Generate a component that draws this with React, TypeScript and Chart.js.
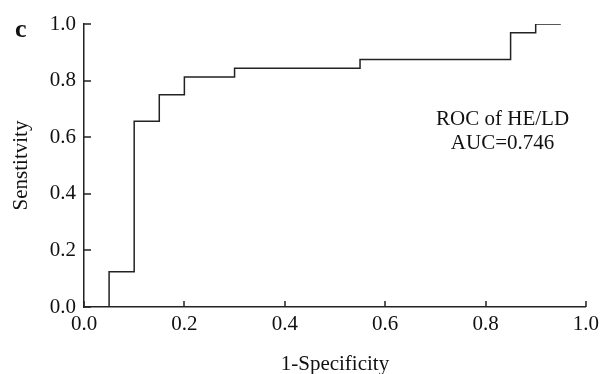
import React, { useEffect, useRef } from "react";
import { Chart, registerables } from "chart.js";

Chart.register(...registerables);

const fpr = [0.05, 0.05, 0.1, 0.15, 0.2, 0.3, 0.55, 0.85, 0.9, 0.95];
const tpr = [0, 0.125, 0.656, 0.75, 0.8125, 0.844, 0.875, 0.969, 1.0, 1.0];
const tickValues = [0, 0.2, 0.4, 0.6, 0.8, 1.0];
const xTitle = "1-Specificity";
const yTitle = "Senstitvity";
const panelLabel = "c";
const annotationLines = ["ROC of HE/LD", "AUC=0.746"];
const annotationAnchor = { x: 0.834, y: 0.643 };

const FONT = "'Liberation Serif', 'Times New Roman', serif";
const INK = "#222222";

const decorPlugin = {
  id: "decor",
  afterDatasetsDraw(chart: any) {
    const ctx = chart.ctx;
    const xs = chart.scales.x;
    const ys = chart.scales.y;
    const left = chart.chartArea.left;
    const bottom = chart.chartArea.bottom;
    ctx.save();
    ctx.strokeStyle = INK;
    ctx.lineWidth = 1.5;
    ctx.beginPath();
    for (const v of tickValues) {
      const px = Math.round(xs.getPixelForValue(v));
      ctx.moveTo(px, bottom);
      ctx.lineTo(px, bottom - 6);
      const py = Math.round(ys.getPixelForValue(v));
      ctx.moveTo(left, py);
      ctx.lineTo(left + 7, py);
    }
    ctx.stroke();
    ctx.fillStyle = "#111";
    ctx.font = `bold 26px ${FONT}`;
    ctx.textAlign = "left";
    ctx.textBaseline = "alphabetic";
    ctx.fillText(panelLabel, 15, 37);
    ctx.font = `21px ${FONT}`;
    ctx.textAlign = "center";
    const ax = xs.getPixelForValue(annotationAnchor.x);
    const ay = ys.getPixelForValue(annotationAnchor.y);
    annotationLines.forEach((t, i) => {
      ctx.fillText(t, ax, ay + i * 24);
    });
    ctx.restore();
  },
};

export default function App() {
  const ref = useRef<HTMLCanvasElement | null>(null);
  useEffect(() => {
    document.body.style.margin = "0";
    const canvas = ref.current!;
    const chart = new Chart(canvas, {
      type: "line",
      data: {
        datasets: [
          {
            data: fpr.map((x, i) => ({ x, y: tpr[i] })),
            stepped: "before",
            borderColor: INK,
            borderWidth: 1.5,
            pointRadius: 0,
            fill: false,
          },
        ],
      },
      options: {
        responsive: false,
        animation: false,
        layout: { padding: { left: 0, right: 15, top: 24, bottom: 0 } },
        plugins: { legend: { display: false }, tooltip: { enabled: false } },
        scales: {
          x: {
            type: "linear",
            min: 0,
            max: 1,
            afterFit: (s: any) => {
              s.height = 67;
            },
            ticks: {
              stepSize: 0.2,
              padding: 5,
              color: "#111",
              font: { family: FONT, size: 21 },
              callback: (v: any) => Number(v).toFixed(1),
            },
            grid: { display: false, drawTicks: false },
            border: { display: true, color: INK, width: 1.5 },
            title: {
              display: true,
              text: xTitle,
              color: "#111",
              font: { family: FONT, size: 21 },
              padding: { top: 0, bottom: -3 },
            },
          },
          y: {
            type: "linear",
            min: 0,
            max: 1,
            afterFit: (s: any) => {
              s.width = 84;
            },
            ticks: {
              stepSize: 0.2,
              padding: 8,
              color: "#111",
              font: { family: FONT, size: 21 },
              callback: (v: any) => Number(v).toFixed(1),
            },
            grid: { display: false, drawTicks: false },
            border: { display: true, color: INK, width: 1.5 },
            title: {
              display: true,
              text: yTitle,
              color: "#111",
              font: { family: FONT, size: 21 },
              padding: { top: 9, bottom: 0 },
            },
          },
        },
      },
      plugins: [decorPlugin],
    });
    return () => chart.destroy();
  }, []);
  return (
    <div style={{ width: 604, height: 374 }}>
      <canvas ref={ref} width={604} height={374} />
    </div>
  );
}
